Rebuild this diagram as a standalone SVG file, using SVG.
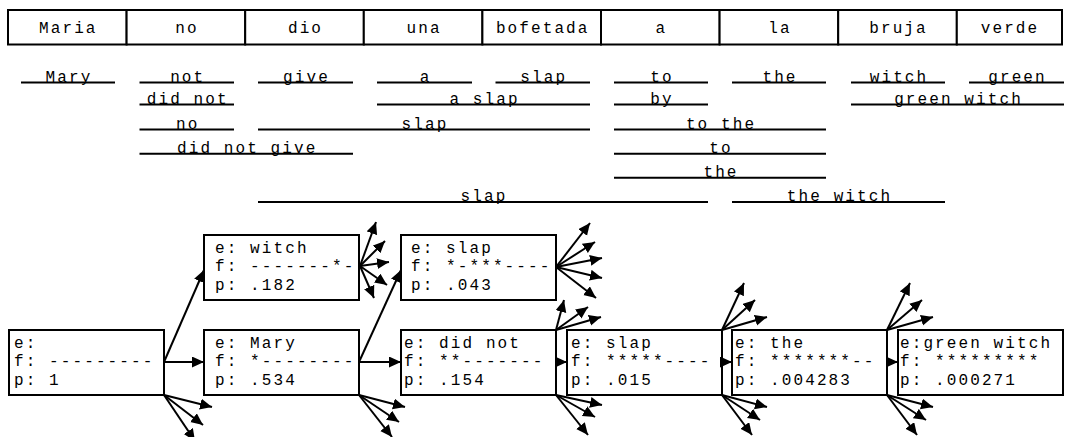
<svg xmlns="http://www.w3.org/2000/svg" width="1067" height="437" viewBox="0 0 1067 437">
<style>
text{font-family:"Liberation Mono","DejaVu Sans Mono",monospace;font-size:16px;letter-spacing:2.1px;fill:#000}
.c{text-anchor:middle}
.cell{fill:#fff;stroke:#000;stroke-width:2}
.ul{stroke:#000;stroke-width:2}
.box{fill:#fff;stroke:#000;stroke-width:2}
.ar{stroke:#000;stroke-width:2;fill:none;marker-end:url(#ah)}
</style>
<defs>
<marker id="ah" markerUnits="userSpaceOnUse" markerWidth="13" markerHeight="12" refX="12" refY="5.5" orient="auto">
<path d="M0,0 L12,5.5 L0,11 Z" fill="#000"/>
</marker>
</defs>
<rect width="1067" height="437" fill="#fff"/>
<g id="source">
<rect class="cell" x="8" y="10" width="118.6" height="34.5"/>
<rect class="cell" x="126.6" y="10" width="118.6" height="34.5"/>
<rect class="cell" x="245.2" y="10" width="118.6" height="34.5"/>
<rect class="cell" x="363.8" y="10" width="118.6" height="34.5"/>
<rect class="cell" x="482.4" y="10" width="118.6" height="34.5"/>
<rect class="cell" x="601" y="10" width="118.6" height="34.5"/>
<rect class="cell" x="719.6" y="10" width="118.6" height="34.5"/>
<rect class="cell" x="838.2" y="10" width="118.6" height="34.5"/>
<rect class="cell" x="956.8" y="10" width="105.2" height="34.5"/>
<text class="c" x="68.3" y="33">Maria</text>
<text class="c" x="186.9" y="33">no</text>
<text class="c" x="305.5" y="33">dio</text>
<text class="c" x="424.1" y="33">una</text>
<text class="c" x="542.7" y="33">bofetada</text>
<text class="c" x="661.3" y="33">a</text>
<text class="c" x="779.9" y="33">la</text>
<text class="c" x="898.5" y="33">bruja</text>
<text class="c" x="1010" y="33">verde</text>
</g>
<g id="phrases">
<text class="c" x="69" y="82">Mary</text><line class="ul" x1="21" y1="82.6" x2="115" y2="82.6"/>
<text class="c" x="187.7" y="82">not</text><line class="ul" x1="139.5" y1="82.6" x2="234" y2="82.6"/>
<text class="c" x="306.5" y="82">give</text><line class="ul" x1="258" y1="82.6" x2="353" y2="82.6"/>
<text class="c" x="425.5" y="82">a</text><line class="ul" x1="377" y1="82.6" x2="472" y2="82.6"/>
<text class="c" x="543.7" y="82">slap</text><line class="ul" x1="495.5" y1="82.6" x2="590" y2="82.6"/>
<text class="c" x="662" y="82">to</text><line class="ul" x1="614" y1="82.6" x2="708" y2="82.6"/>
<text class="c" x="780" y="82">the</text><line class="ul" x1="732" y1="82.6" x2="826" y2="82.6"/>
<text class="c" x="899" y="82">witch</text><line class="ul" x1="851" y1="82.6" x2="945" y2="82.6"/>
<text class="c" x="1017.5" y="82">green</text><line class="ul" x1="969" y1="82.6" x2="1064" y2="82.6"/>

<text class="c" x="187.7" y="104">did not</text><line class="ul" x1="139.5" y1="104.5" x2="234" y2="104.5"/>
<text class="c" x="484.5" y="104">a slap</text><line class="ul" x1="377" y1="104.5" x2="590" y2="104.5"/>
<text class="c" x="662" y="104">by</text><line class="ul" x1="614" y1="104.5" x2="708" y2="104.5"/>
<text class="c" x="958.5" y="104">green witch</text><line class="ul" x1="851" y1="104.5" x2="1064" y2="104.5"/>

<text class="c" x="187.7" y="129">no</text><line class="ul" x1="139.5" y1="129.6" x2="234" y2="129.6"/>
<text class="c" x="425" y="129">slap</text><line class="ul" x1="258" y1="129.6" x2="590" y2="129.6"/>
<text class="c" x="721" y="129">to the</text><line class="ul" x1="614" y1="129.6" x2="826" y2="129.6"/>

<text class="c" x="247.2" y="153">did not give</text><line class="ul" x1="139.5" y1="153.7" x2="353" y2="153.7"/>
<text class="c" x="721" y="153">to</text><line class="ul" x1="614" y1="153.7" x2="826" y2="153.7"/>

<text class="c" x="721" y="177">the</text><line class="ul" x1="614" y1="177.8" x2="826" y2="177.8"/>

<text class="c" x="484" y="201">slap</text><line class="ul" x1="258" y1="201.9" x2="708" y2="201.9"/>
<text class="c" x="839.5" y="201">the witch</text><line class="ul" x1="732" y1="201.9" x2="945" y2="201.9"/>
</g>
<g id="n-root">
<rect class="box" x="9" y="330" width="155" height="65"/>
<text x="14" y="347.5">e:</text><text x="14" y="366">f: ---------</text><text x="14" y="384.5">p: 1</text>
</g>
<g id="n-witch">
<rect class="box" x="204" y="235" width="155" height="65"/>
<text x="215" y="252.5">e: witch</text><text x="215" y="271">f: -------*-</text><text x="215" y="289.5">p: .182</text>
</g>
<g id="n-mary">
<rect class="box" x="204" y="330" width="155" height="65"/>
<text x="215" y="347.5">e: Mary</text><text x="215" y="366">f: *--------</text><text x="215" y="384.5">p: .534</text>
</g>
<g id="n-slap1">
<rect class="box" x="401" y="235" width="155" height="65"/>
<text x="411" y="252.5">e: slap</text><text x="411" y="271">f: *-***----</text><text x="411" y="289.5">p: .043</text>
</g>
<g id="n-didnot">
<rect class="box" x="401" y="330" width="155" height="65"/>
<text x="404" y="347.5">e: did not</text><text x="404" y="366">f: **-------</text><text x="404" y="384.5">p: .154</text>
</g>
<g id="n-slap2">
<rect class="box" x="567" y="330" width="155" height="65"/>
<text x="571" y="347.5">e: slap</text><text x="571" y="366">f: *****----</text><text x="571" y="384.5">p: .015</text>
</g>
<g id="n-the">
<rect class="box" x="732" y="330" width="155" height="65"/>
<text x="735" y="347.5">e: the</text><text x="735" y="366">f: *******--</text><text x="735" y="384.5">p: .004283</text>
</g>
<g id="n-greenwitch">
<rect class="box" x="898" y="330" width="165" height="65"/>
<text x="900" y="347.5">e:green witch</text><text x="900" y="366">f: *********</text><text x="900" y="384.5">p: .000271</text>
</g>
<g id="connectors">
<line class="ar" x1="164" y1="362" x2="204" y2="270"/>
<line class="ar" x1="164" y1="362" x2="204" y2="362"/>
<line class="ar" x1="164" y1="395" x2="212" y2="407"/>
<line class="ar" x1="164" y1="395" x2="203" y2="425"/>
<line class="ar" x1="164" y1="395" x2="195" y2="441"/>

<line class="ar" x1="360" y1="266" x2="376" y2="222"/>
<line class="ar" x1="360" y1="266" x2="385" y2="241"/>
<line class="ar" x1="360" y1="266" x2="389" y2="262"/>
<line class="ar" x1="360" y1="266" x2="387" y2="285"/>
<line class="ar" x1="360" y1="266" x2="374" y2="298"/>

<line class="ar" x1="359" y1="362" x2="401" y2="270"/>
<line class="ar" x1="359" y1="362" x2="401" y2="362"/>
<line class="ar" x1="359" y1="395" x2="405" y2="407"/>
<line class="ar" x1="359" y1="395" x2="399" y2="422"/>
<line class="ar" x1="359" y1="395" x2="392" y2="437"/>

<line class="ar" x1="556" y1="267" x2="590" y2="223"/>
<line class="ar" x1="556" y1="267" x2="595" y2="242"/>
<line class="ar" x1="556" y1="267" x2="602" y2="258"/>
<line class="ar" x1="556" y1="267" x2="602" y2="278"/>
<line class="ar" x1="556" y1="267" x2="596" y2="298"/>

<line class="ar" x1="556" y1="330" x2="564" y2="300"/>
<line class="ar" x1="556" y1="330" x2="588" y2="307"/>
<line class="ar" x1="556" y1="330" x2="601" y2="317"/>
<line class="ar" x1="556" y1="362" x2="567" y2="362"/>
<line class="ar" x1="556" y1="395" x2="602" y2="405"/>
<line class="ar" x1="556" y1="395" x2="595" y2="417"/>
<line class="ar" x1="556" y1="395" x2="588" y2="435"/>

<line class="ar" x1="722" y1="330" x2="744" y2="283"/>
<line class="ar" x1="722" y1="330" x2="755" y2="300"/>
<line class="ar" x1="722" y1="330" x2="767" y2="317"/>
<line class="ar" x1="722" y1="362" x2="732" y2="362"/>
<line class="ar" x1="722" y1="395" x2="767" y2="407"/>
<line class="ar" x1="722" y1="395" x2="760" y2="420"/>
<line class="ar" x1="722" y1="395" x2="752" y2="435"/>

<line class="ar" x1="887" y1="330" x2="910" y2="283"/>
<line class="ar" x1="887" y1="330" x2="922" y2="300"/>
<line class="ar" x1="887" y1="330" x2="933" y2="317"/>
<line class="ar" x1="887" y1="362" x2="898" y2="362"/>
<line class="ar" x1="887" y1="395" x2="933" y2="407"/>
<line class="ar" x1="887" y1="395" x2="926" y2="420"/>
<line class="ar" x1="887" y1="395" x2="917" y2="435"/>
</g>
</svg>
